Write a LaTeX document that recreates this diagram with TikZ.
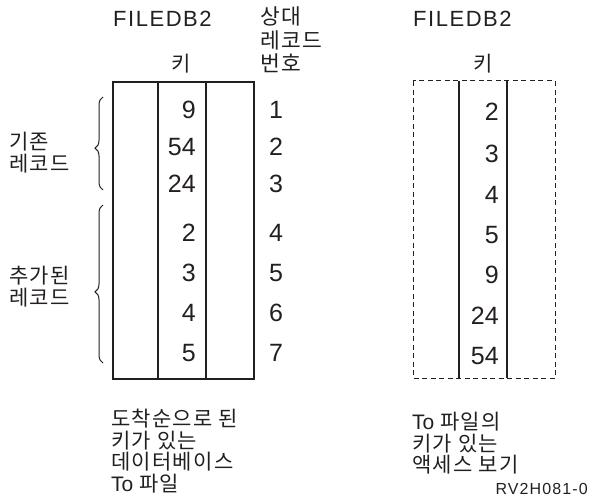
\documentclass[tikz,border=0pt]{standalone}
\usepackage{xcolor}
\usepackage{fontspec}
\setmainfont{Liberation Sans}
\newfontfamily\krfont[LetterSpace=6]{Noto Sans CJK KR}
\newfontfamily\widefont[LetterSpace=7]{Liberation Sans}
\usetikzlibrary{decorations.pathreplacing}

\tikzset{
  keynum/.style={anchor=base east,inner sep=0pt,font=\fontsize{25}{25}\selectfont},
  rrnnum/.style={anchor=base,inner sep=0pt,font=\fontsize{25}{25}\selectfont},
  kor/.style={inner sep=0pt,align=left,font=\fontsize{21}{21.5}\selectfont\krfont},
  title/.style={anchor=base west,inner sep=0pt,font=\fontsize{22}{22}\selectfont\widefont},
  frame/.style={line width=1.2pt,draw=ink},
  grp/.style={draw=ink,line width=1pt,decorate,decoration={brace,amplitude=8pt,aspect=0.45}}
}

\begin{document}
\begin{tikzpicture}[x=1pt,y=-1pt]
\definecolor{ink}{HTML}{231F20}
\useasboundingbox (0,0) rectangle (589,503);

% physical file, arrival order
\node[title,text=ink] (fileL) at (113,27) {FILEDB2};
\node[kor,anchor=south,text=ink] (keyhL) at (181,73) {키};
\node[kor,anchor=north west,text=ink,font=\fontsize{21.5}{23.5}\selectfont\krfont] (rrnh) at (260,7) {상대\\레코드\\번호};
\draw[frame] (113,82) rectangle (254,379);
\draw[frame] (158,82) -- (158,379);
\draw[frame] (206,82) -- (206,379);

\node[keynum,text=ink] (kL1) at (196,118) {9};
\node[keynum,text=ink] (kL2) at (196,155) {54};
\node[keynum,text=ink] (kL3) at (196,192) {24};
\node[keynum,text=ink] (kL4) at (196,241) {2};
\node[keynum,text=ink] (kL5) at (196,281) {3};
\node[keynum,text=ink] (kL6) at (196,321) {4};
\node[keynum,text=ink] (kL7) at (196,361) {5};

\node[rrnnum,text=ink] (r1) at (276,118) {1};
\node[rrnnum,text=ink] (r2) at (276,155) {2};
\node[rrnnum,text=ink] (r3) at (276,192) {3};
\node[rrnnum,text=ink] (r4) at (276,241) {4};
\node[rrnnum,text=ink] (r5) at (276,281) {5};
\node[rrnnum,text=ink] (r6) at (276,321) {6};
\node[rrnnum,text=ink] (r7) at (276,361) {7};

% record groups
\draw[grp] (103,190) -- (103,97);
\draw[grp] (103,363) -- (103,205);
\node[kor,anchor=north west,text=ink] (oldrec) at (9,132) {기존\\레코드};
\node[kor,anchor=north west,text=ink] (newrec) at (9,266) {추가된\\레코드};

\node[kor,anchor=north west,text=ink] (capL) at (111,409) {도착순으로 된\\키가 있는\\데이터베이스\\{\rmfamily To} 파일};

% keyed access path
\node[title,text=ink] (fileR) at (413,27) {FILEDB2};
\node[kor,anchor=south,text=ink] (keyhR) at (483,73) {키};
\draw[frame,line width=1pt,dash pattern=on 5pt off 3.5pt] (413,81) rectangle (555,378);
\draw[frame] (459,81) -- (459,378);
\draw[frame] (507,81) -- (507,378);

\node[keynum,text=ink] (kR1) at (499,121) {2};
\node[keynum,text=ink] (kR2) at (499,162) {3};
\node[keynum,text=ink] (kR3) at (499,203) {4};
\node[keynum,text=ink] (kR4) at (499,243) {5};
\node[keynum,text=ink] (kR5) at (499,283) {9};
\node[keynum,text=ink] (kR6) at (499,324) {24};
\node[keynum,text=ink] (kR7) at (499,364) {54};

\node[kor,anchor=north west,text=ink] (capR) at (412,412) {{\rmfamily To} 파일의\\키가 있는\\액세스 보기};

\node[anchor=south east,inner sep=0pt,text=ink,font=\fontsize{16}{16}\selectfont\widefont] (figid) at (588,495) {RV2H081-0};
\end{tikzpicture}
\end{document}
